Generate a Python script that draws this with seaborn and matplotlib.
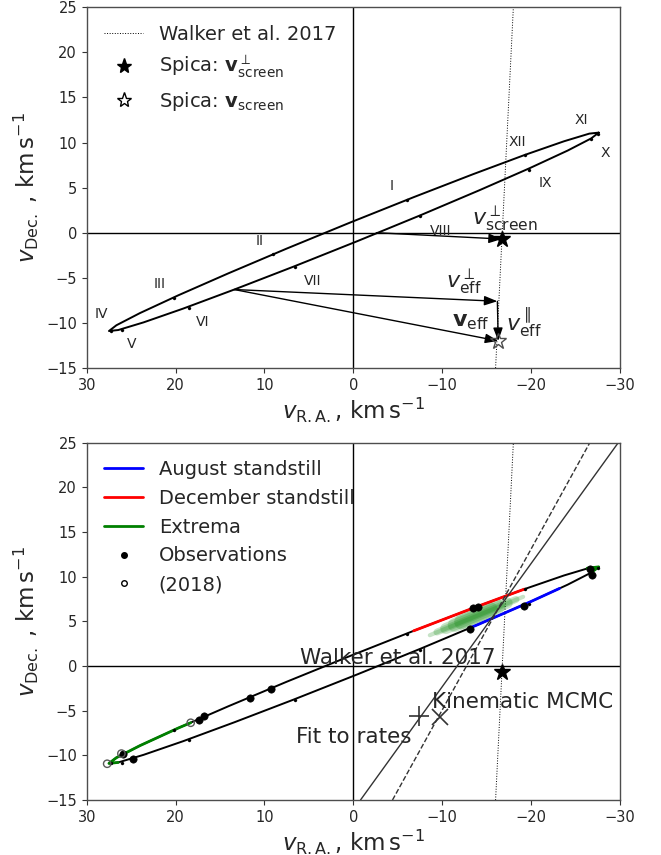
import matplotlib
matplotlib.use("Agg")
import matplotlib.pyplot as plt
from matplotlib.lines import Line2D
import seaborn as sns

# orbit ellipse in (v_RA, v_Dec)
ell_x = [-27.60, -26.55, -23.70, -19.24, -13.47, -6.78, 0.36, 7.48, 14.08, 19.72, 24.01, 26.66,
         27.50, 26.45, 23.60, 19.14, 13.37, 6.68, -0.46, -7.58, -14.18, -19.82, -24.11, -26.76, -27.60]
ell_y = [11.10, 10.99, 10.14, 8.61, 6.49, 3.94, 1.13, -1.75, -4.51, -6.95, -8.91, -10.26,
         -10.90, -10.79, -9.94, -8.41, -6.29, -3.74, -0.93, 1.95, 4.71, 7.15, 9.11, 10.46, 11.10]

# monthly markers and labels
month_x = [-6.0, 9.0, 20.2, 27.3, 26.0, 18.5, 6.6, -7.5, -19.8, -26.7, -27.5, -19.3]
month_y = [3.6, -2.4, -7.2, -10.9, -10.8, -8.3, -3.8, 1.8, 7.0, 10.4, 11.0, 8.6]
month_names = ["I", "II", "III", "IV", "V", "VI", "VII", "VIII", "IX", "X", "XI", "XII"]
mlab_x = [-4.3, 10.6, 21.8, 28.4, 24.9, 17.0, 4.6, -9.8, -21.6, -28.3, -25.6, -18.5]
mlab_y = [5.2, -0.9, -5.7, -9.0, -12.3, -9.9, -5.3, 0.2, 5.5, 8.8, 12.5, 10.1]

walker_x = [-16.0, -18.0]
walker_y = [-15.0, 25.0]
spica_perp = (-16.7, -0.7)
spica_full = (-16.3, -12.0)
screen_start = (-2.6, 0.0)
eff_start = (13.4, -6.3)
eff_perp_end = (-16.2, -7.6)

# bottom panel
aug_x = [-13.0, -14.18, -19.82, -23.2]
aug_y = [4.22, 4.71, 7.15, 8.69]
dec_x = [-6.78, -13.47, -19.24]
dec_y = [3.94, 6.49, 8.61]
ext_left_x = [18.3, 19.72, 24.01, 26.66, 27.50, 26.45]
ext_left_y = [-6.35, -6.95, -8.91, -10.26, -10.90, -10.79]
ext_right_x = [-26.3, -27.60, -26.76]
ext_right_y = [10.95, 11.10, 10.46]
# green scatter cloud drawn as stacked translucent strokes (long+thin to short+thick)
cloud_x0 = [-8.6, -9.4, -10.4, -11.4, -12.2]
cloud_y0 = [3.45, 3.8, 4.2, 4.6, 4.95]
cloud_x1 = [-19.1, -18.3, -17.3, -16.3, -15.4]
cloud_y1 = [7.75, 7.45, 7.05, 6.65, 6.3]
cloud_lw = [3, 5, 8, 10, 11]
obs_x = [25.9, 24.8, 17.4, 16.8, 11.6, 9.3, -13.1, -13.5, -14.0, -19.2, -26.6, -26.8]
obs_y = [-9.9, -10.4, -6.05, -5.6, -3.55, -2.6, 4.1, 6.55, 6.6, 6.7, 10.9, 10.2]
obs18_x = [27.7, 18.3, 26.1]
obs18_y = [-10.94, -6.35, -9.8]
fit_line_x = [-0.8, -29.8]
mcmc_line_x = [-4.4, -26.6]
line_y = [-15.0, 25.0]
fit_pt = (-7.4, -5.6)
mcmc_pt = (-9.7, -5.65)

sns.set_style("ticks")
plt.rcParams["font.family"] = ["DejaVu Sans"]
plt.rcParams["mathtext.fontset"] = "dejavusans"

fig = plt.figure(figsize=(6.61, 8.55), dpi=100)
ax1 = fig.add_axes([0.1312, 0.5696, 0.8068, 0.4219])
ax2 = fig.add_axes([0.1312, 0.0643, 0.8068, 0.4179])


def base(ax):
    ax.axhline(0, color="k", lw=1)
    ax.axvline(0, color="k", lw=1)
    sns.lineplot(x=ell_x, y=ell_y, sort=False, estimator=None, color="k", lw=1.4, ax=ax)
    sns.scatterplot(x=month_x, y=month_y, color="k", s=5, edgecolor="k", ax=ax, zorder=3)
    sns.lineplot(x=walker_x, y=walker_y, sort=False, estimator=None, color="k", lw=0.7,
                 ls=":", ax=ax)
    ax.set_xlim(30, -30)
    ax.set_ylim(-15, 25)
    ax.set_xticks([30, 20, 10, 0, -10, -20, -30])
    ax.set_yticks([25, 20, 15, 10, 5, 0, -5, -10, -15])
    ax.tick_params(labelsize=10.5, direction="out", length=3.5, color="0.2")
    for s in ax.spines.values():
        s.set_color("0.3")
        s.set_linewidth(1.0)
    ax.set_xlabel(r"$v_{\rm R.A.}$, km$\,$s$^{-1}$", fontsize=16.5, labelpad=2)
    ax.set_ylabel(r"$v_{\rm Dec.}$ , km$\,$s$^{-1}$", fontsize=16.5, labelpad=4)


# ---- top panel
base(ax1)
for n, lx, ly in zip(month_names, mlab_x, mlab_y):
    ax1.text(lx, ly, n, fontsize=10, ha="center", va="center")

arr = dict(arrowstyle="-|>,head_length=0.6,head_width=0.22", color="k", lw=1,
           mutation_scale=13, shrinkA=0, shrinkB=0)
ax1.annotate("", xy=spica_perp, xytext=screen_start, arrowprops=arr)
ax1.annotate("", xy=eff_perp_end, xytext=eff_start, arrowprops=arr)
ax1.annotate("", xy=spica_full, xytext=eff_perp_end, arrowprops=arr)
ax1.annotate("", xy=spica_full, xytext=eff_start, arrowprops=arr)

ax1.plot(*spica_perp, marker="*", color="k", ms=12, zorder=5)
ax1.plot(*spica_full, marker="*", mfc="none", mec="0.3", ms=12, zorder=5)

ax1.text(-17.0, -0.15, r"$v_{\rm screen}^{\perp}$", fontsize=16, ha="center", va="bottom")
ax1.text(-12.5, -7.1, r"$v_{\rm eff}^{\perp}$", fontsize=16, ha="center", va="bottom")
ax1.text(-13.2, -11.0, r"$\mathbf{v}_{\rm eff}$", fontsize=16, ha="center", va="bottom")
ax1.text(-19.2, -11.8, r"$v_{\rm eff}^{\parallel}$", fontsize=16, ha="center", va="bottom")

h1 = [Line2D([], [], ls=":", color="k", lw=0.7, label="Walker et al. 2017"),
      Line2D([], [], ls="none", marker="*", color="k", ms=11,
             label=r"Spica: $\mathbf{v}_{\rm screen}^{\perp}$"),
      Line2D([], [], ls="none", marker="*", mfc="none", mec="k", ms=11,
             label=r"Spica: $\mathbf{v}_{\rm screen}$")]
ax1.legend(handles=h1, loc="upper left", frameon=False, fontsize=14)

# ---- bottom panel
base(ax2)
for x0, y0, x1, y1, w in zip(cloud_x0, cloud_y0, cloud_x1, cloud_y1, cloud_lw):
    ax2.plot([x0, x1], [y0, y1], color="green", lw=w, alpha=0.22,
             solid_capstyle="round", zorder=2)
sns.lineplot(x=dec_x, y=dec_y, sort=False, estimator=None, color="red", lw=2, ax=ax2)
sns.lineplot(x=aug_x, y=aug_y, sort=False, estimator=None, color="blue", lw=2, ax=ax2)
sns.lineplot(x=ext_left_x, y=ext_left_y, sort=False, estimator=None, color="green", lw=2, ax=ax2)
sns.lineplot(x=ext_right_x, y=ext_right_y, sort=False, estimator=None, color="green", lw=2, ax=ax2)
sns.scatterplot(x=obs_x, y=obs_y, color="k", s=28, edgecolor="k", ax=ax2, zorder=4)
sns.scatterplot(x=obs18_x, y=obs18_y, facecolor="none", edgecolor="0.35", s=28,
                linewidth=1, ax=ax2, zorder=4)

sns.lineplot(x=fit_line_x, y=line_y, sort=False, estimator=None, color="0.2", lw=1, ax=ax2)
sns.lineplot(x=mcmc_line_x, y=line_y, sort=False, estimator=None, color="0.2", lw=1,
             ls="--", ax=ax2)
ax2.plot(*spica_perp, marker="*", color="k", ms=12, zorder=5)
ax2.plot(*fit_pt, marker="+", color="0.2", ms=15, mew=1.2, zorder=5)
ax2.plot(*mcmc_pt, marker="x", color="0.2", ms=11, mew=1.2, zorder=5)

ax2.text(-16.05, 0.2, "Walker et al. 2017", fontsize=15.5, ha="right", va="baseline")
ax2.text(-8.8, -4.7, "Kinematic MCMC", fontsize=15.5, ha="left", va="baseline")
ax2.text(6.4, -8.6, "Fit to rates", fontsize=15.5, ha="left", va="baseline")

h2 = [Line2D([], [], color="blue", lw=2, label="August standstill"),
      Line2D([], [], color="red", lw=2, label="December standstill"),
      Line2D([], [], color="green", lw=2, label="Extrema"),
      Line2D([], [], ls="none", marker="o", color="k", ms=4, label="Observations"),
      Line2D([], [], ls="none", marker="o", mfc="none", mec="k", ms=4, label="(2018)")]
ax2.legend(handles=h2, loc="upper left", frameon=False, fontsize=14)

fig.savefig("out.png", dpi=100)
